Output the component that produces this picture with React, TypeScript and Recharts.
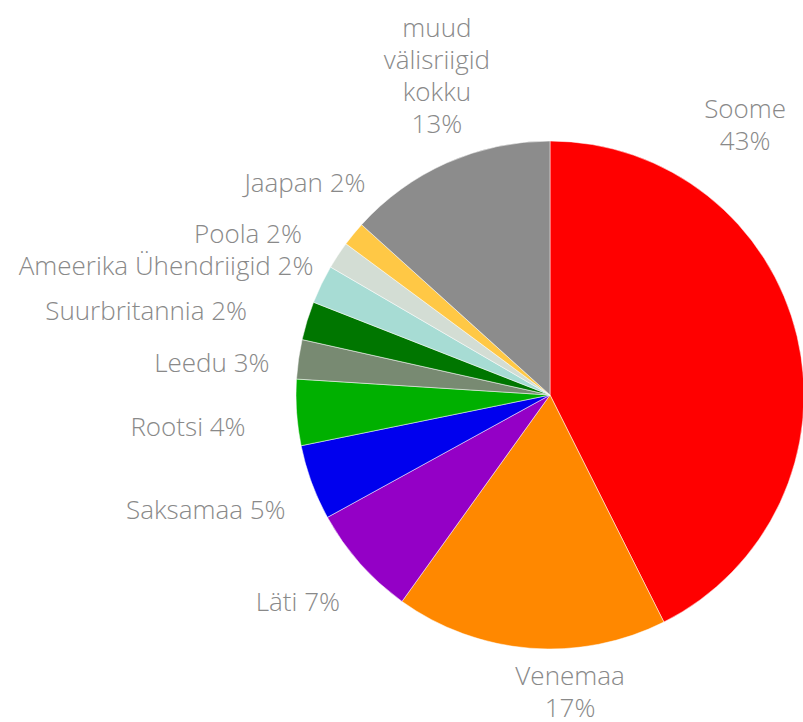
import { Cell, Pie, PieChart } from "recharts";

// Välisturistide jagunemine riikide kaupa (osakaal %)
const countries = [
  "Soome",
  "Venemaa",
  "Läti",
  "Saksamaa",
  "Rootsi",
  "Leedu",
  "Suurbritannia",
  "Ameerika Ühendriigid",
  "Poola",
  "Jaapan",
  "muud välisriigid kokku",
];
const shares = [42.6, 17.3, 7.1, 4.8, 4.2, 2.5, 2.45, 2.45, 1.75, 1.55, 13.3];
const shareLabels = [43, 17, 7, 5, 4, 3, 2, 2, 2, 2, 13];
const colors = [
  "#ff0000",
  "#ff8800",
  "#9400c6",
  "#0000ee",
  "#00b000",
  "#788a72",
  "#007600",
  "#a7dcd4",
  "#d3ddd4",
  "#ffc845",
  "#8c8c8c",
];

// label placement relative to the slice's outer mid point
type LabelPos = { anchor: "start" | "middle" | "end"; dx: number; dy: number; wrap: boolean };
const labelLayout: LabelPos[] = [
  { anchor: "middle", dx: -52, dy: -218, wrap: true },
  { anchor: "middle", dx: 40, dy: 37, wrap: true },
  { anchor: "end", dx: -20, dy: 47, wrap: false },
  { anchor: "end", dx: -26, dy: 36, wrap: false },
  { anchor: "end", dx: -51, dy: 23, wrap: false },
  { anchor: "end", dx: -29, dy: 13, wrap: false },
  { anchor: "end", dx: -60, dy: -1, wrap: false },
  { anchor: "end", dx: -8, dy: -9, wrap: false },
  { anchor: "end", dx: -36, dy: -12, wrap: false },
  { anchor: "end", dx: 12, dy: -42, wrap: false },
  { anchor: "middle", dx: -10, dy: -126, wrap: true },
];

const data = countries.map((name, i) => ({ name, value: shares[i] }));

const RAD = Math.PI / 180;
const LINE = 32;

function SliceLabel(props: any) {
  const { cx, cy, midAngle, outerRadius, index } = props;
  const pos = labelLayout[index];
  const x = cx + outerRadius * Math.cos(-midAngle * RAD) + pos.dx;
  const y = cy + outerRadius * Math.sin(-midAngle * RAD) + pos.dy;
  const pct = `${shareLabels[index]}%`;
  const lines = pos.wrap
    ? [...countries[index].split(" "), pct]
    : [`${countries[index]} ${pct}`];
  return (
    <text
      x={x}
      y={y}
      textAnchor={pos.anchor}
      fill="#898989"
      fontSize={26}
      fontFamily="'Open Sans', sans-serif"
      fontWeight={300}
    >
      {lines.map((l, i) => (
        <tspan key={i} x={x} dy={i === 0 ? 0 : LINE}>
          {l}
        </tspan>
      ))}
    </text>
  );
}

export default function App() {
  return (
    <div style={{ position: "absolute", left: 0, top: 0, width: 803, height: 722, background: "#fff" }}>
      <PieChart width={803} height={722} margin={{ top: 0, right: 0, bottom: 0, left: 0 }}>
        <Pie
          data={data}
          dataKey="value"
          nameKey="name"
          cx={550}
          cy={395}
          outerRadius={254}
          startAngle={90}
          endAngle={-270}
          stroke="#ffffff"
          strokeWidth={0.5}
          label={SliceLabel}
          labelLine={false}
          isAnimationActive={false}
        >
          {data.map((d, i) => (
            <Cell key={d.name} fill={colors[i]} />
          ))}
        </Pie>
      </PieChart>
    </div>
  );
}
